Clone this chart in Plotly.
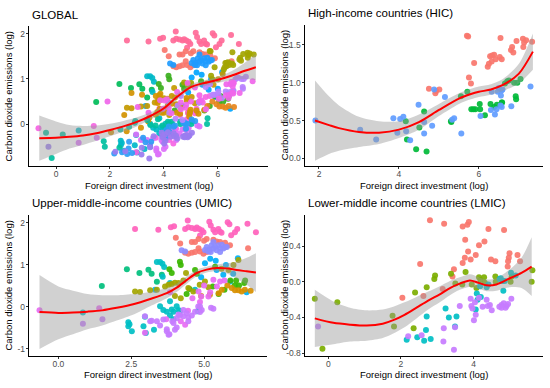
import plotly.graph_objects as go

# ======================= DATA =======================
# ---- High-income countries (HIC) ----
HIC_RED = [(4.75,0.92),(4.91,0.86),(4.93,0.89),(5.01,0.91),(5.70,1.62),(5.73,1.61),(5.75,1.07),(5.80,0.99),
           (5.88,1.26),(6.22,1.21),(6.25,1.25),(6.28,1.35),(6.33,1.36),(6.38,1.37),(6.32,1.28),(6.42,1.31),
           (6.52,1.34),(6.57,1.31),(6.54,1.59),(6.80,1.43),(6.83,1.47),(6.86,1.40),(6.94,1.55),(7.10,1.58),
           (7.13,1.53),(7.11,1.47),(7.18,1.56),(7.33,1.54)]
HIC_GREEN = [(4.17,0.49),(4.20,0.25),(4.43,0.12),(4.51,0.41),(4.63,0.62),(4.69,0.09),(5.30,0.49),(5.31,0.48),
             (5.55,0.82),(5.71,0.88),(5.81,0.65),(5.86,0.65),(5.91,0.65),(6.02,0.72),(6.03,0.65),(6.15,0.57),
             (6.29,0.72),(6.38,0.68),(6.45,0.71),(6.57,0.74),(6.58,0.74),(6.65,0.99),(6.71,1.02),(6.75,1.03),
             (6.88,1.00),(6.96,1.00),(7.04,1.05),(6.92,0.82),(6.93,0.78)]
HIC_BLUE = [(1.91,0.50),(3.03,0.38),(3.43,0.25),(3.86,0.53),(3.96,0.34),(4.03,0.52),(4.11,0.55),(4.18,0.36),
            (4.28,0.24),(4.49,0.71),(4.63,0.48),(4.63,0.33),(4.83,0.43),(4.88,0.91),(5.15,0.81),(5.33,0.51),
            (5.38,0.53),(5.56,0.33),(6.04,0.56),(6.30,0.64),(6.32,0.88),(6.40,0.58),(6.44,0.65),(6.47,0.88),
            (6.50,0.93),(6.55,0.83),(6.57,0.90),(6.59,0.91),(6.54,0.70),(6.57,0.68),(6.81,0.69),(7.29,0.95)]

# ---- Lower-middle income countries (LMIC) ----
LMIC_RED = [(2.80,0.69),(3.19,0.65),(3.70,0.62),(3.83,0.64),(3.87,0.67),(3.77,0.47),(4.15,0.41),(4.30,0.45),
            (4.41,0.59),(4.84,0.58),(2.53,0.20),(2.04,-0.18),(2.62,-0.16),(3.15,-0.08),(3.46,0.14),(3.42,0.06),
            (3.70,0.21),(3.76,0.27),(3.85,0.34),(3.92,0.25),(4.06,0.30),(4.48,0.25),(4.60,0.23),(4.94,0.17),
            (4.97,0.27),(4.99,0.32),(4.95,0.23),(5.21,0.30),(5.28,0.23)]
LMIC_OLIVE = [(-0.37,-0.19),(0.25,-0.23),(-0.16,-0.75),(1.77,-0.38),(1.81,-0.50),(2.35,-0.52),(2.39,-0.12),
              (2.71,-0.06),(2.92,0.03),(2.94,0.07),(3.38,0.09),(3.50,-0.02),(3.69,-0.03),(3.78,0.11),(3.95,-0.03),
              (4.08,-0.07),(4.15,0.05),(4.19,0.02),(4.29,0.05),(4.31,-0.01),(4.60,0.06),(4.61,0.00),(5.05,0.06),
              (5.02,0.00),(5.62,0.13),(5.60,0.00)]
LMIC_CYAN = [(2.16,-0.65),(2.45,-0.62),(2.69,-0.54),(2.71,-0.39),(2.64,-0.66),(2.82,-0.64),(3.23,-0.30),
             (3.32,-0.40),(3.53,-0.39),(3.49,-0.50),(4.09,-0.13),(4.20,-0.17),(4.06,-0.31),(4.11,-0.20),
             (4.18,-0.05),(4.36,-0.06),(4.41,-0.03),(4.75,0.04),(4.80,0.01),(4.86,0.01),(5.03,0.10),
             (5.16,0.07),(4.82,-0.10),(4.72,0.03)]
LMIC_PURPLE = [(-0.28,-0.50),(2.20,-0.61),(2.57,-0.60),(3.17,-0.67),(3.18,-0.52),(3.46,-0.76),(3.49,-0.51),
               (3.62,-0.27),(3.92,-0.19),(3.94,-0.27),(3.97,-0.30),(4.04,-0.23),(4.06,-0.37),(4.01,-0.43),
               (4.25,-0.28),(4.36,-0.20),(4.39,-0.27),(4.45,-0.26),(4.50,-0.32),(4.15,-0.18),(4.71,-0.28),
               (4.77,-0.26),(4.83,-0.24),(4.91,-0.27),(4.88,-0.29),(4.95,-0.25),(5.04,-0.19),(4.77,-0.29)]

# ---- Upper-middle-income countries (UMIC) ----
UMIC_PINK = [(2.63,1.85),(3.43,1.83),(3.86,1.89),(3.97,1.91),(4.35,1.85),(4.44,2.05),(4.46,1.89),(4.58,1.87),
             (4.69,1.85),(4.75,1.88),(4.83,1.85),(4.86,1.69),(4.98,1.77),(5.18,2.02),(5.23,1.93),(5.32,1.83),
             (5.38,1.77),(5.49,1.85),(5.55,1.78),(5.81,2.01),(5.87,1.96),(5.93,1.70),(6.06,1.77),(6.14,1.85),
             (6.49,1.97),(6.78,1.77),(4.92,1.82),(5.60,1.76)]
UMIC_RED = [(4.03,1.64),(4.18,1.50),(4.58,1.54),(4.69,1.54),(4.81,1.61),(5.00,1.57),(5.09,1.61),(5.32,1.59),
            (5.43,1.55),(5.55,1.54),(4.35,1.28),(4.46,1.26),(4.58,1.28),(4.69,1.30),(4.86,1.31),(4.98,1.26),
            (5.09,1.30),(5.18,1.34),(5.89,1.46),(6.51,1.39),(5.72,1.52),(4.81,1.39)]
UMIC_PERI = [(4.23,1.34),(4.35,1.31),(5.09,1.42),(5.18,1.36),(5.26,1.46),(5.32,1.38),(5.38,1.42),(5.43,1.34),
             (5.49,1.46),(5.55,1.39),(5.61,1.47),(5.66,1.38),(5.78,1.42),(5.32,1.54),(5.23,1.30),(5.55,1.30),
             (5.03,1.35),(5.15,1.31),(5.72,1.41)]
UMIC_TEALGREEN = [(1.49,0.49),(2.35,0.89),(2.78,0.80),(3.09,0.88),(3.20,0.78),(3.38,0.59),(3.55,0.76)]
UMIC_CYAN = [(0.84,-0.14),(3.38,1.06),(3.49,1.06),(3.57,1.02),(3.63,0.94),(3.58,0.71),(2.40,-0.37),(2.44,-0.42),
             (2.40,-0.47),(2.52,-0.59),(2.97,-0.24),(2.92,-0.47),(3.00,-0.63),(3.28,-0.55),(3.60,-0.08),
             (3.72,-0.12),(3.83,-0.21),(3.95,-0.12),(4.12,-0.08),(3.95,-0.30),(3.49,0.01),(3.83,0.13),
             (3.89,-0.07),(4.06,0.01),(4.17,-0.11),(4.78,-0.11),(4.83,-0.07),(4.69,0.40),(3.83,0.56)]
UMIC_BLUE = [(5.03,1.03),(5.40,1.09),(5.75,0.99),(6.16,1.15),(6.46,0.34),(5.66,0.76),(5.21,1.14),(3.32,0.40),
             (5.43,0.87),(4.90,0.70),(5.90,0.60),(6.00,0.78)]
UMIC_GREEN = [(3.81,0.89),(3.89,0.80),(4.17,1.07),(4.20,0.99),(4.69,0.87),(4.75,0.78),(5.38,0.95),(6.41,0.62),
              (6.38,0.56),(5.90,0.62),(6.05,0.50),(6.20,0.50),(5.70,0.40),(5.50,0.30),(6.10,0.62),(5.30,0.48),
              (4.50,0.42),(4.40,0.30)]
UMIC_OLIVE = [(2.63,0.36),(2.80,0.35),(3.15,0.39),(3.38,0.40),(3.66,0.48),(3.78,0.52),(3.89,0.54),(4.00,0.57),
              (4.12,0.56),(4.29,0.62),(4.38,0.80),(6.01,0.99),(6.18,1.11),(5.84,0.87),(5.03,0.60),(5.15,0.46),
              (4.63,0.36),(4.46,0.44),(5.60,0.90),(4.85,0.52),(4.00,0.25),(4.20,0.20)]
UMIC_ORANGE = [(5.95,0.44),(6.06,0.39),(6.18,0.39),(6.29,0.36),(5.61,0.40),(5.50,0.32),(6.40,0.40),(6.60,0.38),
               (5.80,0.50),(5.20,0.28),(4.90,0.25)]
UMIC_MAGENTA = [(-0.65,-0.09),(1.40,-0.04),(5.55,0.60),(5.44,0.48),(5.32,0.64),(5.21,0.34),(5.15,0.24),
                (4.90,0.24),(4.86,0.11),(3.83,0.34),(4.81,0.36),(2.97,-0.62),(4.35,-0.43),(5.70,0.62),
                (5.00,0.50),(4.60,0.20),(4.45,-0.10),(4.20,-0.35),(3.70,-0.30)]
UMIC_PURPLE = [(0.84,-0.41),(1.51,-0.30),(2.97,-0.23),(3.15,-0.35),(3.20,-0.34),(3.38,-0.35),(3.49,-0.45),
               (3.60,-0.31),(3.72,-0.59),(3.78,-0.67),(3.81,-0.66),(4.00,-0.55),(3.91,-0.35),(4.06,-0.28),
               (4.18,-0.20),(4.29,-0.08),(4.40,-0.16),(4.46,-0.26),(4.58,-0.21),(4.69,-0.12),(4.86,0.00),
               (4.92,-0.08),(5.24,-0.03),(5.32,-0.05),(4.80,0.00),(4.86,-0.13),(3.95,-0.39),(4.06,-0.50),
               (3.72,-0.54),(4.12,-0.19),(4.29,-0.23),(4.46,-0.35)]

# ---- LOESS fits (x, fitted value, half-width of confidence band) ----
GLOBAL_FIT_X = [-0.62, 0.0, 0.5, 1.0, 1.5, 2.0, 2.5, 3.0, 3.5, 4.0, 4.5, 5.0, 5.5, 6.0, 6.5, 7.0, 7.41]
GLOBAL_FIT_Y = [-0.31, -0.30, -0.28, -0.25, -0.20, -0.13, -0.05, 0.05, 0.18, 0.35, 0.61, 0.82, 0.91, 0.98, 1.07, 1.18, 1.26]
GLOBAL_FIT_SE = [0.50, 0.36, 0.26, 0.21, 0.17, 0.14, 0.12, 0.10, 0.08, 0.07, 0.065, 0.06, 0.06, 0.07, 0.10, 0.18, 0.29]

HIC_FIT_X = [1.9, 2.25, 2.5, 3.0, 3.5, 4.0, 4.5, 5.0, 5.5, 5.8, 6.0, 6.3, 6.6, 7.0, 7.35]
HIC_FIT_Y = [0.50, 0.44, 0.40, 0.35, 0.34, 0.38, 0.48, 0.64, 0.79, 0.85, 0.88, 0.91, 0.97, 1.12, 1.41]
HIC_FIT_SE = [0.53, 0.38, 0.30, 0.20, 0.15, 0.11, 0.10, 0.08, 0.07, 0.07, 0.07, 0.07, 0.08, 0.13, 0.24]

UMIC_FIT_X = [-0.65, 0.0, 0.5, 1.0, 1.5, 2.0, 2.6, 3.15, 3.72, 4.06, 4.4, 4.75, 5.09, 5.43, 5.78, 6.12, 6.46, 6.78]
UMIC_FIT_Y = [-0.13, -0.15, -0.14, -0.12, -0.09, -0.03, 0.06, 0.18, 0.32, 0.45, 0.63, 0.80, 0.88, 0.92, 0.91, 0.87, 0.84, 0.81]
UMIC_FIT_SE = [0.88, 0.63, 0.52, 0.42, 0.36, 0.30, 0.24, 0.17, 0.12, 0.10, 0.09, 0.08, 0.07, 0.08, 0.12, 0.20, 0.32, 0.46]

LMIC_FIT_X = [-0.37, 0.14, 0.6, 1.06, 1.5, 1.79, 2.1, 2.43, 2.75, 3.07, 3.35, 3.62, 3.9, 4.13, 4.36, 4.63, 5.0, 5.32, 5.6]
LMIC_FIT_Y = [-0.41, -0.46, -0.48, -0.49, -0.47, -0.43, -0.37, -0.29, -0.21, -0.14, -0.07, -0.02, 0.015, -0.01, -0.04, -0.03, 0.04, 0.10, 0.17]
LMIC_FIT_SE = [0.32, 0.24, 0.19, 0.17, 0.16, 0.15, 0.14, 0.12, 0.10, 0.09, 0.08, 0.07, 0.07, 0.065, 0.065, 0.07, 0.10, 0.17, 0.33]

# ---- Titles / tick labels ----
PANEL_TITLES = ["GLOBAL", "High-income countries (HIC)", "Upper-middle-income countries (UMIC)",
                "Lower-middle income countries (LMIC)"]
X_TITLE = "Foreign direct investment (log)"
Y_TITLE = "Carbon dioxide emissions (log)"
GLOBAL_XTICKS, GLOBAL_XLABELS = [0, 2, 4, 6], ["0", "2", "4", "6"]
GLOBAL_YTICKS, GLOBAL_YLABELS = [0, 1, 2], ["0", "1", "2"]
HIC_XTICKS, HIC_XLABELS = [2, 4, 6], ["2", "4", "6"]
HIC_YTICKS, HIC_YLABELS = [0, 0.5, 1.0, 1.5], ["0.0", "0.5", "1.0", "1.5"]
UMIC_XTICKS, UMIC_XLABELS = [0, 2.5, 5.0], ["0.0", "2.5", "5.0"]
UMIC_YTICKS, UMIC_YLABELS = [-1, 0, 1, 2], ["-1", "0", "1", "2"]
LMIC_XTICKS, LMIC_XLABELS = [0, 2, 4], ["0", "2", "4"]
LMIC_YTICKS, LMIC_YLABELS = [-0.8, -0.4, 0.0, 0.4], ["-0.8", "-0.4", "0.0", "0.4"]

# ======================= STYLE =======================
W, H = 550, 388
FONT = "Liberation Sans, Arial, sans-serif"

# group -> (colour in its own panel, colour in the GLOBAL panel)
HIC_GROUPS = [(HIC_RED, "#F8766D", "#A3A500"), (HIC_GREEN, "#00BA38", "#B983FF"), (HIC_BLUE, "#619CFF", "#F066EA")]
LMIC_GROUPS = [(LMIC_RED, "#F8766D", "#D39200"), (LMIC_OLIVE, "#7CAE00", "#00BFA0"),
               (LMIC_CYAN, "#00BFC4", "#2D9CF5"), (LMIC_PURPLE, "#C77CFF", "#9B7CF0")]
UMIC_GROUPS = [(UMIC_PINK, "#FF62BC", "#FF6A98"), (UMIC_RED, "#F8766D", "#F8766D"),
               (UMIC_PERI, "#8C8CFF", "#1F9BFF"), (UMIC_TEALGREEN, "#00BF7D", "#00BC59"),
               (UMIC_CYAN, "#00BFC4", "#00B8C8"), (UMIC_BLUE, "#00B0F6", "#00A5FF"),
               (UMIC_GREEN, "#39B600", "#3BAF1E"), (UMIC_OLIVE, "#A3A500", "#C49A00"),
               (UMIC_ORANGE, "#D89000", "#E7861B"), (UMIC_MAGENTA, "#E76BF3", "#F564E3"),
               (UMIC_PURPLE, "#C77CFF", "#DC71FA")]


def px_x(p):
    return p / W


def px_y(p):
    return 1 - p / H


# panel pixel boxes: (left, right, top, bottom)
BOXES = {
    1: (29.3, 268.0, 26.7, 167.0),
    2: (305.0, 543.3, 25.0, 167.0),
    3: (29.3, 266.7, 216.7, 358.3),
    4: (305.0, 543.3, 216.7, 358.3),
}
RANGES = {
    1: ([-0.99, 7.86], [-0.92, 2.16]),
    2: ([1.65, 7.61], [-0.096, 1.764]),
    3: ([-1.0, 7.15], [-1.165, 2.18]),
    4: ([-0.64, 5.92], [-0.826, 0.748]),
}
TICKS = {
    1: (GLOBAL_XTICKS, GLOBAL_XLABELS, GLOBAL_YTICKS, GLOBAL_YLABELS),
    2: (HIC_XTICKS, HIC_XLABELS, HIC_YTICKS, HIC_YLABELS),
    3: (UMIC_XTICKS, UMIC_XLABELS, UMIC_YTICKS, UMIC_YLABELS),
    4: (LMIC_XTICKS, LMIC_XLABELS, LMIC_YTICKS, LMIC_YLABELS),
}

fig = go.Figure()


def axref(i):
    return ("x" if i == 1 else f"x{i}"), ("y" if i == 1 else f"y{i}")


def add_points(i, pts, color):
    xa, ya = axref(i)
    xs = [p[0] for p in pts]
    ys = [p[1] for p in pts]
    fig.add_trace(go.Scatter(x=xs, y=ys, mode="markers", xaxis=xa, yaxis=ya,
                             marker=dict(size=6, color=color, opacity=0.92, line=dict(width=0)),
                             hoverinfo="skip", showlegend=False))


def add_fit(i, fx, fy, se):
    xa, ya = axref(i)
    hi = [a + b for a, b in zip(fy, se)]
    lo = [a - b for a, b in zip(fy, se)]
    fig.add_trace(go.Scatter(x=fx, y=hi, mode="lines", xaxis=xa, yaxis=ya,
                             line=dict(width=0, shape="spline", smoothing=0.8),
                             hoverinfo="skip", showlegend=False))
    fig.add_trace(go.Scatter(x=fx, y=lo, mode="lines", xaxis=xa, yaxis=ya, fill="tonexty",
                             fillcolor="rgba(153,153,153,0.45)",
                             line=dict(width=0, shape="spline", smoothing=0.8),
                             hoverinfo="skip", showlegend=False))
    fig.add_trace(go.Scatter(x=fx, y=fy, mode="lines", xaxis=xa, yaxis=ya,
                             line=dict(color="#FF0000", width=2, shape="spline", smoothing=0.8),
                             hoverinfo="skip", showlegend=False))


# GLOBAL panel: union of all groups, coloured by country
for grp, _, gcol in UMIC_GROUPS + LMIC_GROUPS + HIC_GROUPS:
    add_points(1, grp, gcol)
add_fit(1, GLOBAL_FIT_X, GLOBAL_FIT_Y, GLOBAL_FIT_SE)

for grp, col, _ in HIC_GROUPS:
    add_points(2, grp, col)
add_fit(2, HIC_FIT_X, HIC_FIT_Y, HIC_FIT_SE)

for grp, col, _ in UMIC_GROUPS:
    add_points(3, grp, col)
add_fit(3, UMIC_FIT_X, UMIC_FIT_Y, UMIC_FIT_SE)

for grp, col, _ in LMIC_GROUPS:
    add_points(4, grp, col)
add_fit(4, LMIC_FIT_X, LMIC_FIT_Y, LMIC_FIT_SE)

layout = dict(width=W, height=H, margin=dict(l=0, r=0, t=0, b=0),
              paper_bgcolor="white", plot_bgcolor="white",
              font=dict(family=FONT, color="black"), showlegend=False)

annotations = []
for i in range(1, 5):
    l, r, t, b = BOXES[i]
    xr, yr = RANGES[i]
    xt, xl, yt, yl = TICKS[i]
    common = dict(showgrid=False, zeroline=False, showline=True, linecolor="black", linewidth=1,
                  ticks="outside", ticklen=2.5, tickwidth=1, tickcolor="#333333",
                  tickfont=dict(family=FONT, size=8.5, color="#4D4D4D"), fixedrange=True)
    xname = "xaxis" if i == 1 else f"xaxis{i}"
    yname = "yaxis" if i == 1 else f"yaxis{i}"
    xa, ya = axref(i)
    layout[xname] = dict(domain=[px_x(l), px_x(r)], range=xr, anchor=ya, tickvals=xt, ticktext=xl,
                         ticklabelstandoff=-2, **common)
    layout[yname] = dict(domain=[px_y(b), px_y(t)], range=yr, anchor=xa, tickvals=yt, ticktext=yl,
                         ticklabelstandoff=-1, **common)

    # panel title
    annotations.append(dict(text=PANEL_TITLES[i - 1], x=px_x(l + 0.5), y=px_y(t - 12), xref="paper", yref="paper",
                            xanchor="left", yanchor="middle", showarrow=False,
                            font=dict(family=FONT, size=11.5, color="black")))
    # x title
    annotations.append(dict(text=X_TITLE, x=px_x((l + r) / 2), y=px_y(b + 19.5), xref="paper", yref="paper",
                            xanchor="center", yanchor="middle", showarrow=False,
                            font=dict(family=FONT, size=9.5, color="black")))
    # y title
    annotations.append(dict(text=Y_TITLE, x=px_x(l - 21), y=px_y((t + b) / 2), xref="paper", yref="paper",
                            xanchor="center", yanchor="middle", showarrow=False, textangle=-90,
                            font=dict(family=FONT, size=9.5, color="black")))

layout["annotations"] = annotations
fig.update_layout(**layout)
fig.write_html("out.html", config={"displayModeBar": False},
               post_script="document.body.style.margin='0';document.body.style.padding='0';")
